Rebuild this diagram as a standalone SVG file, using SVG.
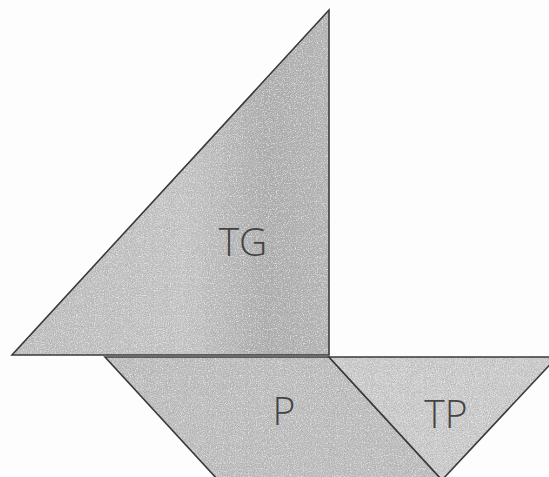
<svg xmlns="http://www.w3.org/2000/svg" width="549" height="477" viewBox="0 0 549 477">
  <defs>
    <style>
      .edge { fill: none; stroke: #3a3a3a; stroke-width: 1.6; stroke-linejoin: miter; }
      .fill { stroke: none; filter: url(#grain); }
      .lbl { font-family: "Open Sans", "Liberation Sans", sans-serif; font-weight: 300; font-size: 39px; fill: #444444; text-anchor: middle; }
    </style>
    <linearGradient id="gTG" x1="0" y1="0" x2="1" y2="0">
      <stop offset="0" stop-color="#bebebe"/>
      <stop offset="0.55" stop-color="#c6c6c6"/>
      <stop offset="0.8" stop-color="#adadad"/>
      <stop offset="1" stop-color="#b5b5b5"/>
    </linearGradient>
    <filter id="grain" x="0" y="0" width="100%" height="100%">
      <feTurbulence type="fractalNoise" baseFrequency="0.95" numOctaves="2" seed="4" result="n"/>
      <feColorMatrix in="n" type="matrix" values="0 0 0 0 0.35  0 0 0 0 0.35  0 0 0 0 0.35  1.8 0 0 0 -0.82" result="dark"/>
      <feComposite in="dark" in2="SourceAlpha" operator="in" result="d"/>
      <feTurbulence type="fractalNoise" baseFrequency="0.85" numOctaves="2" seed="11" result="m"/>
      <feColorMatrix in="m" type="matrix" values="0 0 0 0 0.95  0 0 0 0 0.95  0 0 0 0 0.95  1.8 0 0 0 -0.85" result="light"/>
      <feComposite in="light" in2="SourceAlpha" operator="in" result="l"/>
      <feMerge><feMergeNode in="SourceGraphic"/><feMergeNode in="l"/><feMergeNode in="d"/></feMerge>
    </filter>
  </defs>
  <rect width="549" height="477" fill="#fdfdfd"/>
  <g id="TG">
    <polygon class="fill" points="329,10 12,355 329,355" fill="url(#gTG)"/>
    <polygon class="edge" points="329,10 12,355 329,355"/>
    <text class="lbl" x="243" y="256">TG</text>
  </g>
  <g id="P">
    <polygon class="fill" points="105,357 329,357 442,480 218,480" fill="#bebebe"/>
    <polygon class="edge" points="105,357 329,357 442,480 218,480"/>
    <text class="lbl" x="284" y="425">P</text>
  </g>
  <g id="TP">
    <polygon class="fill" points="329,357 557,357 442,480" fill="#cccccc"/>
    <polygon class="edge" points="329,357 557,357 442,480"/>
    <text class="lbl" x="446" y="428">TP</text>
  </g>
</svg>
